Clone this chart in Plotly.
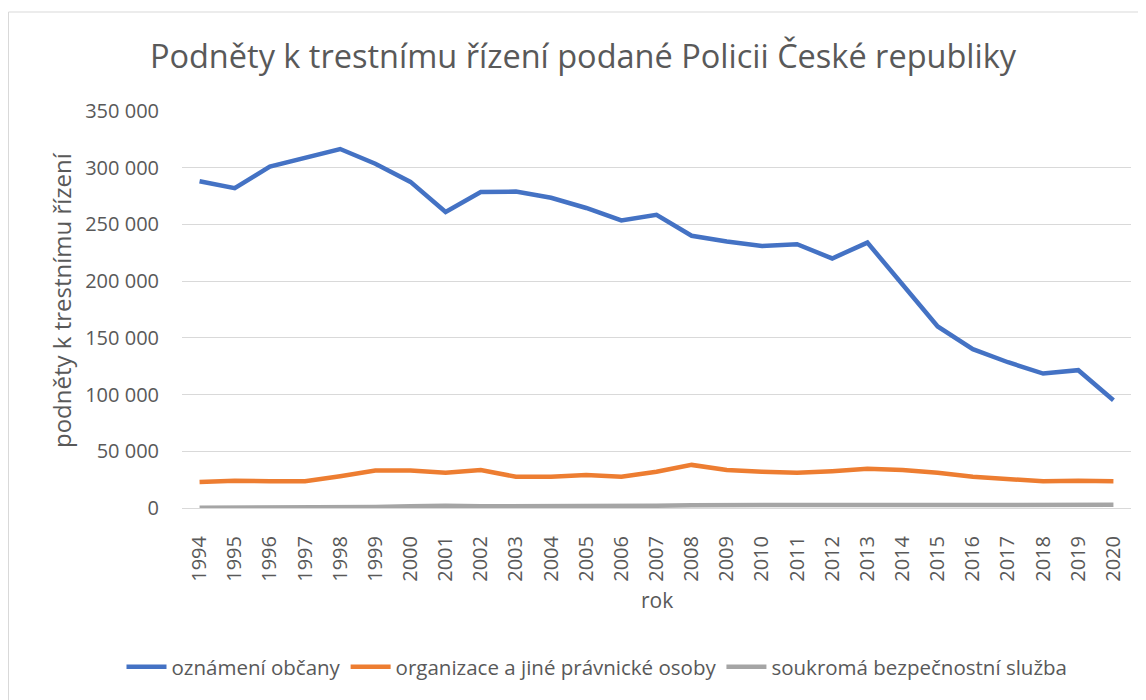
import plotly.graph_objects as go

roky = list(range(1994, 2021))
oznameni_obcany = [288000, 282000, 301000, 309000, 316500, 303500, 287500, 261000, 278500, 279000, 273500, 264500,
                   253500, 258500, 240000, 235000, 231000, 232500, 220000, 234000, 196500, 160000, 140000, 128500,
                   118500, 121500, 95000]
organizace = [23000, 24000, 23500, 23500, 28000, 33000, 33000, 31000, 33500, 27500, 27500, 29000,
              27500, 32000, 38000, 33500, 32000, 31000, 32500, 34500, 33500, 31000, 27500, 25500,
              23500, 24000, 23500]
bezpecnostni = [300, 300, 300, 300, 400, 900, 1500, 2000, 1500, 1500, 1500, 1600,
                1600, 2000, 2500, 2500, 2500, 2600, 3000, 3100, 3000, 2600, 2600, 3000,
                2600, 3100, 2800]

nazvy = ["oznámení občany", "organizace a jiné právnické osoby", "soukromá bezpečnostní služba"]
barvy = ["#4472C4", "#ED7D31", "#A5A5A5"]
serie = [oznameni_obcany, organizace, bezpecnostni]

# the page body adds an 8px margin, so the figure is laid out 8px up/left
W, H = 1146, 700
L, R, T, B = 174, 23, 103, 200
pw, ph = W - L - R, H - T - B
y0px = T + ph  # pixel row of the x axis
text_col = "#595959"
font = "Open Sans"

fig = go.Figure()
for nazev, barva, y in zip(nazvy, barvy, serie):
    fig.add_trace(go.Scatter(x=roky, y=y, name=nazev, mode="lines",
                             line=dict(color=barva, width=4.5, shape="linear")))

fig.update_layout(
    width=W, height=H,
    margin=dict(l=L, r=R, t=T, b=B),
    paper_bgcolor="white", plot_bgcolor="white",
    separators=", ",
    font=dict(family=font, color=text_col, size=20),
    title=dict(text="Podněty k trestnímu řízení podané Policii České republiky",
               x=575 / W, xanchor="center", y=1 - 49 / H, yanchor="middle",
               font=dict(size=32.5, color=text_col, family=font)),
    showlegend=True,
    legend=dict(orientation="h", xref="container", yref="container",
                x=589 / W, xanchor="center", y=1 - 659 / H, yanchor="middle",
                itemwidth=40,
                font=dict(size=20.5, color=text_col), bgcolor="rgba(0,0,0,0)"),
    xaxis=dict(range=[1993.5, 2020.5], tickmode="array", tickvals=roky,
               ticktext=[str(r) for r in roky], tickangle=-90,
               showgrid=False, showline=True, linecolor="#D9D9D9", linewidth=1,
               ticks="", ticklabelstandoff=19, zeroline=False,
               tickfont=dict(size=20, color=text_col)),
    yaxis=dict(range=[0, 350000], dtick=50000, tickformat=",d",
               showgrid=True, gridcolor="#D9D9D9", gridwidth=1,
               zeroline=False, showline=False, ticks="", ticklabelstandoff=22,
               tickfont=dict(size=20, color=text_col)),
    annotations=[
        dict(text="rok", xref="paper", yref="paper", x=(649 - L) / pw, y=-(592 - y0px) / ph,
             xanchor="center", yanchor="middle", showarrow=False, font=dict(size=21, color=text_col)),
        dict(text="podněty k trestnímu řízení", xref="paper", yref="paper", x=-(L - 53) / pw,
             y=(y0px - 292) / ph, xanchor="center", yanchor="middle", textangle=-90,
             showarrow=False, font=dict(size=24, color=text_col)),
    ],
    shapes=[dict(type="rect", xref="paper", yref="paper", xsizemode="pixel", ysizemode="pixel",
                 xanchor=0, yanchor=0, x0=0.5 - L, x1=W + 10 - L, y0=y0px - 4, y1=y0px - H - 10,
                 line=dict(color="#D9D9D9", width=1), fillcolor="rgba(0,0,0,0)", layer="below")],
)

fig.write_html("out.html")
